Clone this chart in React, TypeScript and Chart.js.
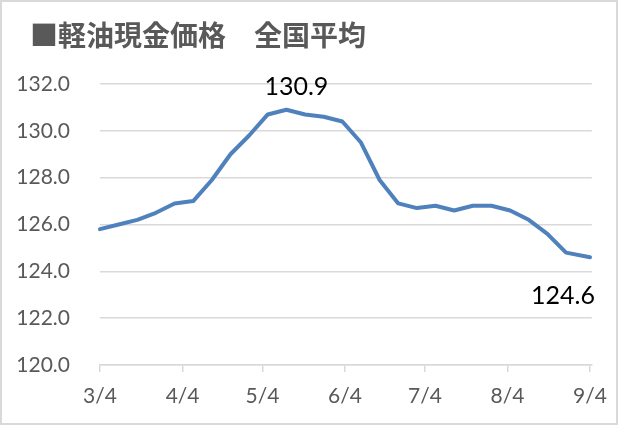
import React, { useEffect, useRef } from "react";
import { Chart, registerables } from "chart.js";

Chart.register(...registerables);

const titleText = "■軽油現金価格　全国平均";
// days since 3/4
const days = [0, 7, 14, 21, 28, 35, 42, 49, 56, 63, 70, 77, 84, 91, 98, 105, 112, 119, 126, 133, 140, 147, 154, 161, 168, 175, 184];
const prices = [125.8, 126.0, 126.2, 126.5, 126.9, 127.0, 127.9, 129.0, 129.8, 130.7, 130.9, 130.7, 130.6, 130.4, 129.5, 127.9, 126.9, 126.7, 126.8, 126.6, 126.8, 126.8, 126.6, 126.2, 125.6, 124.8, 124.6];
const tickDays = [0, 31, 61, 92, 122, 153, 184];
const tickLabels = ["3/4", "4/4", "5/4", "6/4", "7/4", "8/4", "9/4"];
const labeledIndices = [10, 26];

const labelOffsets: Record<number, { dx: number; dy: number }> = {
  10: { dx: 10, dy: -23 },
  26: { dx: -27, dy: 39 },
};

const decorPlugin = {
  id: "decor",
  beforeDraw(chart: any) {
    const { ctx, width, height } = chart;
    ctx.save();
    ctx.fillStyle = "#ffffff";
    ctx.fillRect(0, 0, width, height);
    ctx.strokeStyle = "#D9D9D9";
    ctx.lineWidth = 2;
    ctx.strokeRect(1, 1, width - 3, height - 3);
    ctx.fillStyle = "#595959";
    ctx.font = 'bold 28px "Noto Sans CJK JP"';
    ctx.textBaseline = "middle";
    ctx.textAlign = "left";
    ctx.fillText(titleText, 30, 35);
    ctx.restore();
  },
  afterDatasetsDraw(chart: any) {
    const { ctx } = chart;
    const meta = chart.getDatasetMeta(0);
    ctx.save();
    ctx.fillStyle = "#000000";
    ctx.font = '25px Lato';
    ctx.textAlign = "center";
    ctx.textBaseline = "middle";
    labeledIndices.forEach((i) => {
      const pt = meta.data[i];
      const off = labelOffsets[i];
      ctx.fillText(prices[i].toFixed(1), pt.x + off.dx, pt.y + off.dy);
    });
    ctx.restore();
  },
};

export default function App() {
  const ref = useRef<HTMLCanvasElement>(null);
  useEffect(() => {
    document.body.style.margin = "0";
    const canvas = ref.current!;
    const chart = new Chart(canvas, {
      type: "line",
      data: {
        datasets: [
          {
            data: days.map((d, i) => ({ x: d, y: prices[i] })),
            borderColor: "#4F81BD",
            borderWidth: 4,
            pointRadius: 0,
            tension: 0,
            fill: false,
            clip: false as any,
            borderJoinStyle: "round",
            borderCapStyle: "round",
          },
        ],
      },
      options: {
        animation: false,
        responsive: false,
        maintainAspectRatio: false,
        layout: { padding: { top: 84, left: 0, right: 24, bottom: 0 } },
        plugins: {
          legend: { display: false },
          tooltip: { enabled: false },
          title: { display: false },
        },
        scales: {
          x: {
            type: "linear",
            min: 0,
            max: 184.7,
            afterBuildTicks: (scale: any) => {
              scale.ticks = tickDays.map((v) => ({ value: v }));
            },
            afterFit: (scale: any) => {
              scale.height = 61;
            },
            ticks: {
              autoSkip: false,
              maxRotation: 0,
              padding: 12,
              color: "#595959",
              font: { family: "Lato", size: 21 },
              callback: (v: any) => {
                const idx = tickDays.indexOf(Number(v));
                return idx >= 0 ? tickLabels[idx] : "";
              },
            },
            grid: {
              display: true,
              drawOnChartArea: false,
              drawTicks: true,
              tickLength: 7,
              color: "#D9D9D9",
              lineWidth: 1.5,
            },
            border: { display: true, color: "#D9D9D9", width: 1.5 },
          },
          y: {
            min: 120,
            max: 132,
            afterFit: (scale: any) => {
              scale.width = 100;
            },
            ticks: {
              stepSize: 2,
              padding: 30,
              color: "#595959",
              font: { family: "Lato", size: 21 },
              callback: (v: any) => Number(v).toFixed(1),
            },
            grid: {
              color: "#D9D9D9",
              lineWidth: 1.5,
              drawTicks: false,
            },
            border: { display: false },
          },
        },
      },
      plugins: [decorPlugin],
    });
    return () => chart.destroy();
  }, []);
  return (
    <canvas
      ref={ref}
      width={619}
      height={426}
      style={{ display: "block", width: 619, height: 426 }}
    />
  );
}
